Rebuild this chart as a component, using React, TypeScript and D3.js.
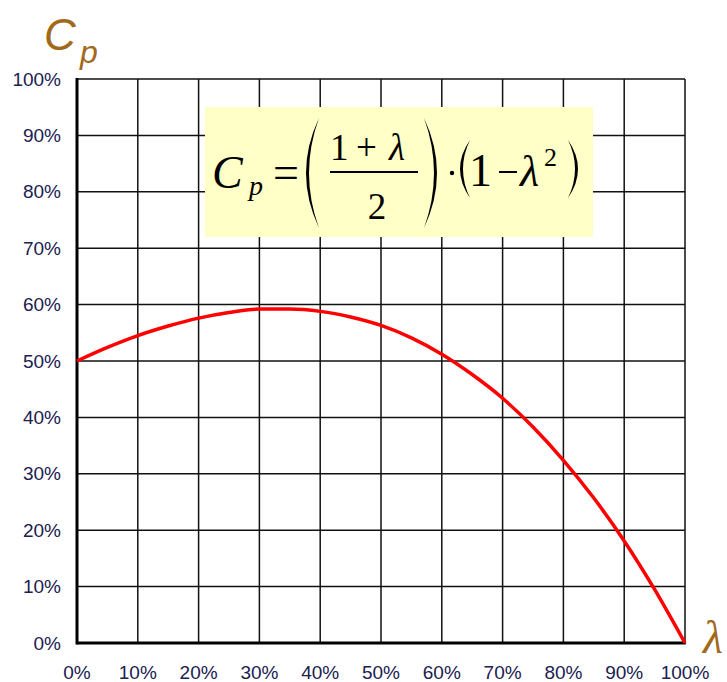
import * as d3 from 'd3';

// lambda (tip speed ratio) in percent, sampled every 5%
const lambdaPct = [0, 5, 10, 15, 20, 25, 30, 35, 40, 45, 50, 55, 60, 65, 70, 75, 80, 85, 90, 95, 100];
// power coefficient Cp in percent
const cpPct = [50, 52.4, 54.5, 56.2, 57.6, 58.6, 59.2, 59.2, 58.8, 57.8, 56.3, 54.1, 51.2, 47.6, 43.4, 38.3, 32.4, 25.7, 18.1, 9.5, 0];
// axis ticks
const xTicks = [0, 10, 20, 30, 40, 50, 60, 70, 80, 90, 100];
const yTicks = [0, 10, 20, 30, 40, 50, 60, 70, 80, 90, 100];

const W = 727;
const H = 682;
const margin = { top: 79, right: 42, bottom: 39, left: 77 };

const BROWN = '#a06a1a';
const LABEL = '#202050';
const SERIF = '"Liberation Serif", "Times New Roman", serif';
const SANS = '"Liberation Sans", Arial, sans-serif';

function App() {
  const xScale = d3.scaleLinear().domain([0, 100]).range([margin.left, W - margin.right]);
  const yScale = d3.scaleLinear().domain([0, 100]).range([H - margin.bottom, margin.top]);

  const points: [number, number][] = lambdaPct.map((l, i) => [l, cpPct[i]]);
  const line = d3
    .line<[number, number]>()
    .curve(d3.curveMonotoneX)
    .x((d) => xScale(d[0]))
    .y((d) => yScale(d[1]));

  const x0 = xScale(0);
  const x1 = xScale(100);
  const y0 = yScale(0);
  const y1 = yScale(100);

  return (
    <svg
      width={W}
      height={H}
      style={{ position: 'absolute', left: 0, top: 0, background: '#fff' }}
    >
      {/* grid */}
      <g stroke="#111" strokeWidth={1.5}>
        {xTicks.map((t) => (
          <line key={'vx' + t} x1={xScale(t)} x2={xScale(t)} y1={y0} y2={y1} />
        ))}
        {yTicks.map((t) => (
          <line key={'hy' + t} x1={x0} x2={x1} y1={yScale(t)} y2={yScale(t)} />
        ))}
      </g>
      {/* heavier left / bottom axes */}
      <line x1={x0} x2={x0} y1={y1 - 1} y2={y0 + 1.5} stroke="#000" strokeWidth={3} />
      <line x1={x0} x2={x1 + 0.75} y1={y0} y2={y0} stroke="#000" strokeWidth={3} />

      {/* y tick labels */}
      <g fontFamily={SANS} fontSize={19} fill={LABEL} textAnchor="end">
        {yTicks.map((t) => (
          <text key={'yl' + t} x={61} y={yScale(t)} dy="0.35em">
            {t + '%'}
          </text>
        ))}
      </g>
      {/* x tick labels */}
      <g fontFamily={SANS} fontSize={19} fill={LABEL} textAnchor="middle">
        {xTicks.map((t) => (
          <text key={'xl' + t} x={xScale(t)} y={679}>
            {t + '%'}
          </text>
        ))}
      </g>

      {/* the curve */}
      <path d={line(points) ?? ''} fill="none" stroke="#ff0000" strokeWidth={3.5} strokeLinejoin="round" />

      {/* axis titles */}
      <text x={44} y={50} fontFamily={SANS} fontStyle="italic" fontSize={44} fill={BROWN}>
        C
      </text>
      <text x={80} y={63} fontFamily={SANS} fontStyle="italic" fontSize={32} fill={BROWN}>
        p
      </text>
      <text x={703} y={653} fontFamily={SERIF} fontStyle="italic" fontSize={46} fill={BROWN}>
        λ
      </text>

      {/* formula box */}
      <rect x={205} y={107} width={388} height={130} fill="#ffffc8" />
      <g fontFamily={SERIF} fill="#000">
        <text x={212} y={188} fontSize={46} fontStyle="italic">C</text>
        <text x={249} y={195} fontSize={28} fontStyle="italic">p</text>
        <text x={273} y={188} fontSize={46}>=</text>
        <path d="M319,118 Q293,173 319,228 Q299,173 319,118 Z" />
        <text x={330} y={160} fontSize={37}>1</text>
        <text x={356} y={160} fontSize={37}>+</text>
        <text x={389} y={160} fontSize={37} fontStyle="italic">λ</text>
        <line x1={330} x2={418} y1={172} y2={172} stroke="#000" strokeWidth={2} />
        <text x={377} y={219} fontSize={37} textAnchor="middle">2</text>
        <path d="M424,118 Q450,173 424,228 Q444,173 424,118 Z" />
        <circle cx={452} cy={173} r={2.2} />
        <path d="M470,140 Q450,169 470,198 Q456,169 470,140 Z" />
        <text x={469} y={186} fontSize={46}>1</text>
        <line x1={499} x2={517} y1={172} y2={172} stroke="#000" strokeWidth={2} />
        <text x={520} y={186} fontSize={44} fontStyle="italic">λ</text>
        <text x={544} y={166} fontSize={26}>2</text>
        <path d="M568,140 Q588,169 568,198 Q582,169 568,140 Z" />
      </g>
    </svg>
  );
}

export default App;
